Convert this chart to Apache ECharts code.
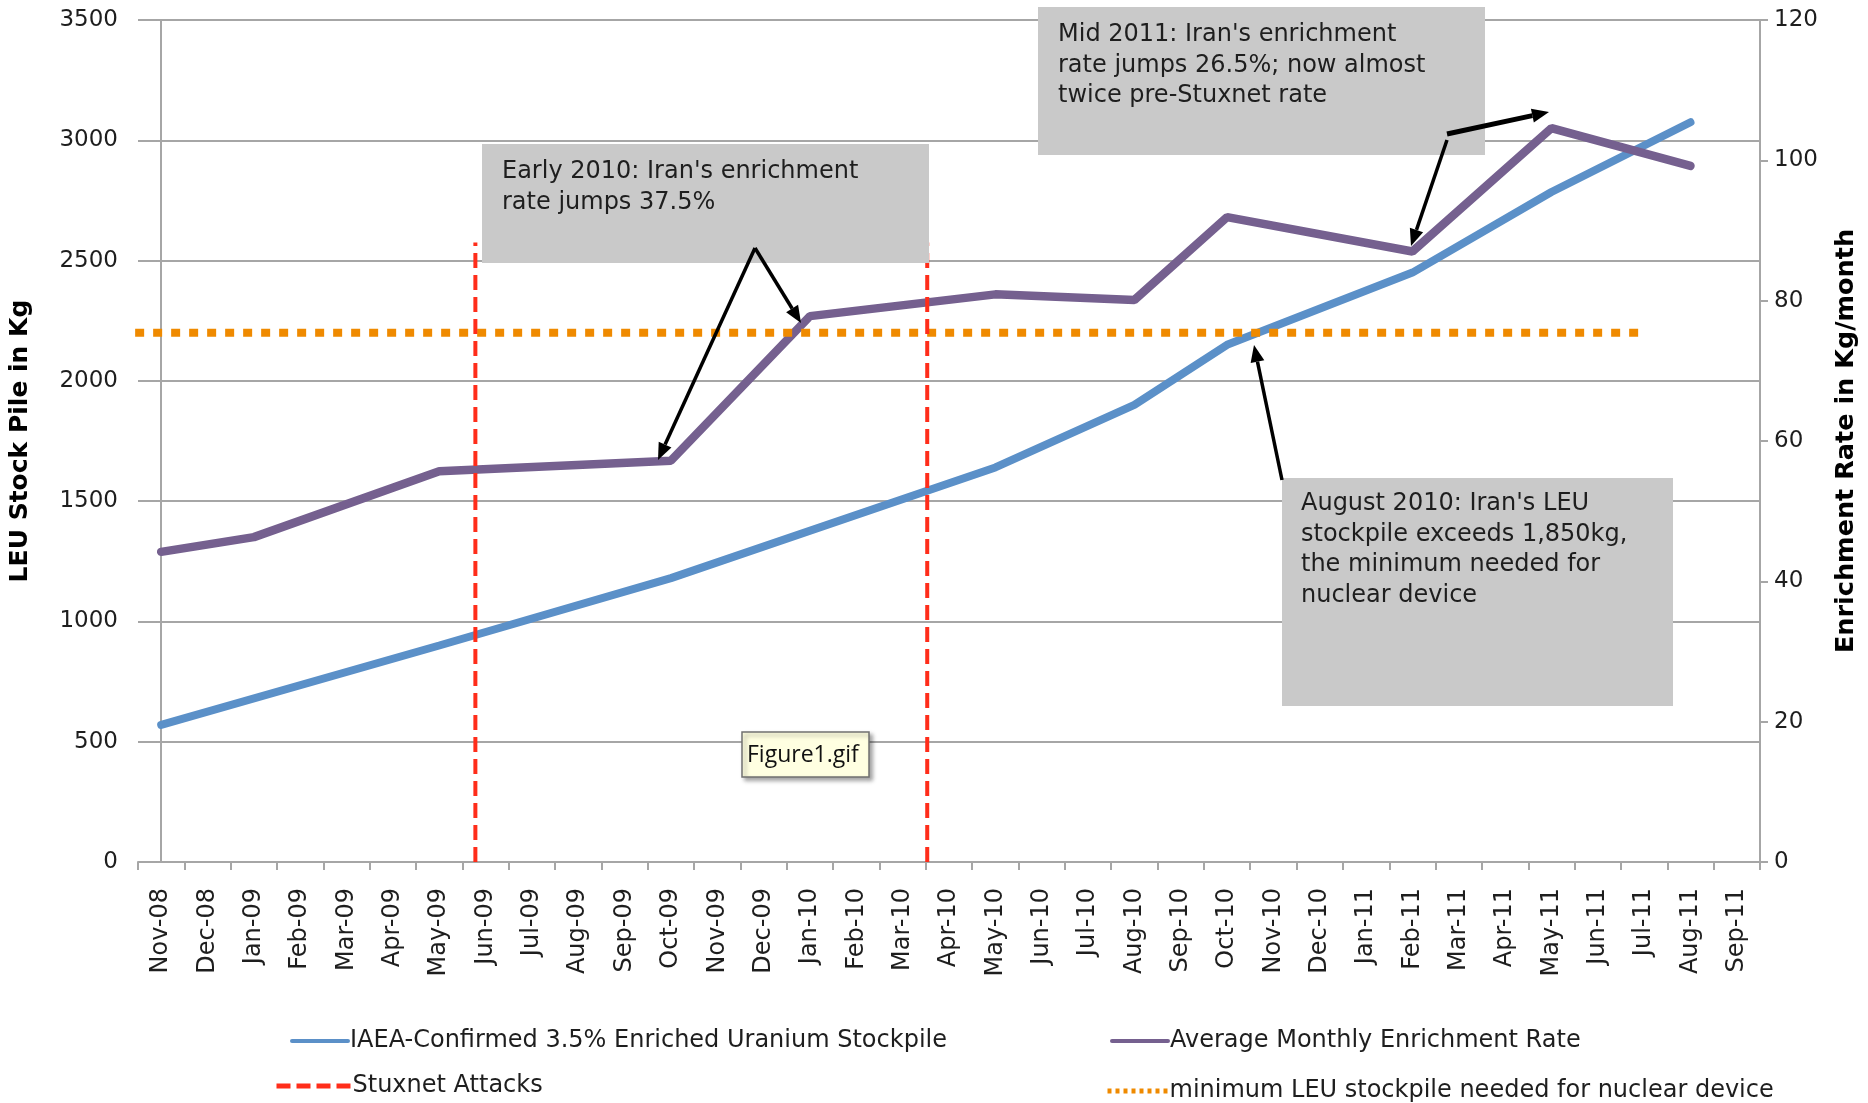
<!DOCTYPE html>
<html>
<head>
<meta charset="utf-8">
<title>Iran LEU stockpile and Stuxnet</title>
<script src="https://cdn.jsdelivr.net/npm/echarts@6.0.0/dist/echarts.min.js"></script>
<style>
  html, body { margin: 0; padding: 0; background: #fff; }
  #main { width: 1868px; height: 1103px; }
</style>
</head>
<body>
<div id="main"></div>
<script>
// x categories, one per month
const months = ['Nov-08', 'Dec-08', 'Jan-09', 'Feb-09', 'Mar-09', 'Apr-09', 'May-09', 'Jun-09',
  'Jul-09', 'Aug-09', 'Sep-09', 'Oct-09', 'Nov-09', 'Dec-09', 'Jan-10', 'Feb-10', 'Mar-10',
  'Apr-10', 'May-10', 'Jun-10', 'Jul-10', 'Aug-10', 'Sep-10', 'Oct-10', 'Nov-10', 'Dec-10',
  'Jan-11', 'Feb-11', 'Mar-11', 'Apr-11', 'May-11', 'Jun-11', 'Jul-11', 'Aug-11', 'Sep-11']

// IAEA confirmed stockpile (kg) - only the months where the line has a point
const stockMonths = ['Nov-08', 'May-09', 'Oct-09', 'May-10', 'Aug-10', 'Oct-10', 'Feb-11', 'May-11', 'Aug-11']
const stockKg = [570, 900, 1180, 1640, 1900, 2150, 2450, 2785, 3075]

// average monthly enrichment rate (kg/month), right axis
const rateMonths = ['Nov-08', 'Jan-09', 'May-09', 'Oct-09', 'Jan-10', 'May-10', 'Aug-10', 'Oct-10', 'Feb-11', 'May-11', 'Aug-11']
const rateKg = [44.2, 46.3, 55.7, 57.2, 77.8, 80.9, 80.1, 91.9, 87.0, 104.6, 99.2]

// minimum LEU line (kg) and where it runs, in month-index units
const minLeuKg = 2200
const minLeuSpan = [-0.95, 32]

// stuxnet attacks, month-index position and how high the dashed line goes (kg)
const stuxnetAt = [6.78, 16.53]
const stuxnetTopKg = 2575

// axis ranges
const leftAxis = { min: 0, max: 3500, interval: 500 }
const rightAxis = { min: 0, max: 120, interval: 20 }

const FONT = 'DejaVu Sans'
const GRID_COLOR = '#a6a6a6'

function arrow(x1, y1, x2, y2, w) {
  const a = Math.atan2(y2 - y1, x2 - x1)
  const hl = 17, hw = 7
  const bx = x2 - hl * Math.cos(a), by = y2 - hl * Math.sin(a)
  const px = -Math.sin(a) * hw, py = Math.cos(a) * hw
  return [
    { type: 'line', z: 120, shape: { x1: x1, y1: y1, x2: bx, y2: by }, style: { stroke: '#000', lineWidth: w } },
    { type: 'polygon', z: 120, shape: { points: [[x2, y2], [bx + px, by + py], [bx - px, by - py]] }, style: { fill: '#000' } }
  ]
}

function note(x, y, w, h, lines, tx, ty) {
  return [
    { type: 'rect', z: 100, shape: { x: x, y: y, width: w, height: h }, style: { fill: '#c9c9c9' } },
    { type: 'text', z: 110, style: { x: tx, y: ty, text: lines.join('\n'), font: '24px ' + FONT, fill: '#1e1e1e', lineHeight: 30.5, verticalAlign: 'top' } }
  ]
}

const stuxnetSeries = stuxnetAt.map(function (m) {
  return {
    name: 'Stuxnet Attacks',
    type: 'line',
    xAxisIndex: 1,
    yAxisIndex: 0,
    symbol: 'none',
    z: 6,
    lineStyle: { color: '#ff2d1a', width: 4, type: [15, 7] },
    itemStyle: { color: '#ff2d1a' },
    data: [[m, 0], [m, stuxnetTopKg]]
  }
})

const graphics = []
  .concat(note(482, 144, 447, 119, ["Early 2010: Iran's enrichment", 'rate jumps 37.5%'], 502, 157))
  .concat(note(1038, 7, 447, 148, ["Mid 2011: Iran's enrichment", 'rate jumps 26.5%; now almost', 'twice pre-Stuxnet rate'], 1058, 20))
  .concat(note(1282, 478, 391, 228, ["August 2010: Iran's LEU", 'stockpile exceeds 1,850kg,', 'the minimum needed for', 'nuclear device'], 1301, 489))
  .concat(arrow(755, 248, 658, 460, 3.5))
  .concat(arrow(755, 248, 801, 323, 3.5))
  .concat(arrow(1447, 134, 1549, 112, 5))
  .concat(arrow(1447, 140, 1411, 246, 3.5))
  .concat(arrow(1282, 480, 1254, 345, 3.5))
  .concat([
    { type: 'rect', z: 100, shape: { x: 742, y: 732, width: 127, height: 45 },
      style: { fill: '#ffffe1', stroke: '#707070', lineWidth: 1.5, shadowBlur: 4, shadowOffsetX: 3, shadowOffsetY: 3, shadowColor: 'rgba(0,0,0,0.35)' } },
    { type: 'text', z: 110, style: { x: 747, y: 755, text: 'Figure1.gif', font: '23px Open Sans', fill: '#111', verticalAlign: 'middle' } }
  ])

const legendBase = {
  orient: 'horizontal',
  padding: 0,
  itemWidth: 56,
  itemHeight: 14,
  itemGap: 2,
  itemStyle: { opacity: 0 },
  textStyle: { fontFamily: FONT, fontSize: 24, color: '#1e1e1e', padding: [0, 0, 0, -3] },
  lineStyle: { width: 4 }
}

function plainNumber(v) { return String(v) }

const option = {
  animation: false,
  backgroundColor: '#fff',
  grid: { left: 135, right: 108, top: 20, bottom: 241, containLabel: false },
  xAxis: [
    {
      type: 'category',
      data: months,
      boundaryGap: true,
      axisLine: { lineStyle: { color: GRID_COLOR, width: 2 } },
      axisTick: { show: true, alignWithLabel: false, length: 8, lineStyle: { color: GRID_COLOR, width: 2 } },
      axisLabel: { interval: 0, rotate: 90, margin: 26, fontFamily: FONT, fontSize: 24, color: '#1e1e1e' },
      splitLine: { show: false }
    },
    { type: 'value', min: -0.5, max: 34.5, show: false }
  ],
  yAxis: [
    {
      type: 'value',
      min: leftAxis.min, max: leftAxis.max, interval: leftAxis.interval,
      name: 'LEU Stock Pile in Kg',
      nameLocation: 'middle',
      nameRotate: 90,
      nameGap: 105,
      nameTextStyle: { fontFamily: FONT, fontSize: 25, fontWeight: 'bold', color: '#000' },
      axisLine: { show: true, lineStyle: { color: GRID_COLOR, width: 2 } },
      axisTick: { show: true, length: 5, lineStyle: { color: GRID_COLOR, width: 2 } },
      axisLabel: { margin: 20, fontFamily: FONT, fontSize: 23, color: '#1e1e1e', formatter: plainNumber },
      splitLine: { show: true, lineStyle: { color: GRID_COLOR, width: 2 } }
    },
    {
      type: 'value',
      position: 'right',
      min: rightAxis.min, max: rightAxis.max, interval: rightAxis.interval,
      name: 'Enrichment Rate in Kg/month',
      nameLocation: 'middle',
      nameRotate: 90,
      nameGap: 73,
      nameTextStyle: { fontFamily: FONT, fontSize: 25.5, fontWeight: 'bold', color: '#000' },
      axisLine: { show: true, lineStyle: { color: GRID_COLOR, width: 2 } },
      axisTick: { show: true, length: 8, lineStyle: { color: GRID_COLOR, width: 2 } },
      axisLabel: { margin: 14, fontFamily: FONT, fontSize: 23, color: '#1e1e1e', formatter: plainNumber },
      splitLine: { show: false }
    }
  ],
  legend: [
    Object.assign({}, legendBase, { left: 290, top: 1029, data: ['IAEA-Confirmed 3.5% Enriched Uranium Stockpile'] }),
    Object.assign({}, legendBase, { left: 1110, top: 1029, data: ['Average Monthly Enrichment Rate'] }),
    Object.assign({}, legendBase, { left: 274, top: 1074, itemWidth: 74, data: [{ name: 'Stuxnet Attacks', lineStyle: { width: 5, type: [14, 6] } }] }),
    Object.assign({}, legendBase, { left: 1105, top: 1079, itemWidth: 60, data: [{ name: 'minimum LEU stockpile needed for nuclear device', lineStyle: { width: 5, type: [4, 4] } }] })
  ],
  series: [
    {
      name: 'IAEA-Confirmed 3.5% Enriched Uranium Stockpile',
      type: 'line',
      yAxisIndex: 0,
      symbol: 'none',
      z: 3,
      lineStyle: { color: '#5b90c8', width: 8, cap: 'round' },
      itemStyle: { color: '#5b90c8' },
      data: stockMonths.map(function (m, i) { return [m, stockKg[i]] })
    },
    {
      name: 'Average Monthly Enrichment Rate',
      type: 'line',
      yAxisIndex: 1,
      symbol: 'none',
      z: 4,
      lineStyle: { color: '#75608f', width: 8.5, cap: 'round' },
      itemStyle: { color: '#75608f' },
      data: rateMonths.map(function (m, i) { return [m, rateKg[i]] })
    },
    {
      name: 'minimum LEU stockpile needed for nuclear device',
      type: 'line',
      xAxisIndex: 1,
      yAxisIndex: 0,
      symbol: 'none',
      clip: false,
      z: 5,
      lineStyle: { color: '#ef8a00', width: 8, type: [9, 9] },
      itemStyle: { color: '#ef8a00' },
      data: [[minLeuSpan[0], minLeuKg], [minLeuSpan[1], minLeuKg]]
    }
  ].concat(stuxnetSeries),
  graphic: graphics
}

const myChart = echarts.init(document.getElementById('main'))
myChart.setOption(option)
</script>
</body>
</html>
